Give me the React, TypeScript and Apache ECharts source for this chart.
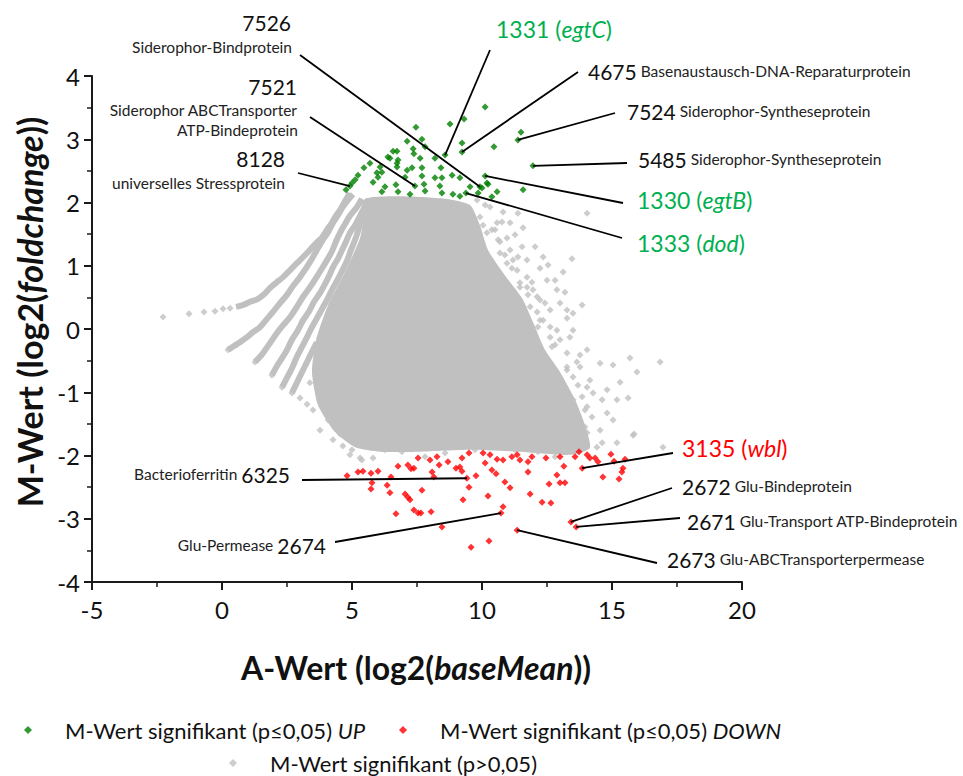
import React, { useEffect, useRef } from 'react';
import * as echarts from 'echarts';

// ---------- data ----------
const X_RANGE = [-5, 20];
const Y_RANGE = [-4, 4];

const NAME_UP = 'M-Wert signifikant (p≤0,05) UP';
const NAME_DOWN = 'M-Wert signifikant (p≤0,05) DOWN';
const NAME_NS = 'M-Wert signifikant (p>0,05)';

// significant, up-regulated (A, M)
const UP_POINTS: number[][] = [
  [7.46, 3.19], [8.77, 3.24], [9.31, 3.32], [7.12, 2.97], [7.69, 3.0], [6.73, 2.81], [7.35, 2.85],
  [7.38, 2.77], [7.81, 2.88], [6.46, 2.7], [6.77, 2.67], [7.62, 2.7], [8.19, 2.7], [9.23, 2.94],
  [9.23, 2.8], [10.46, 2.88], [11.5, 3.11], [11.38, 2.99], [11.96, 2.58], [5.69, 2.62], [5.46, 2.55],
  [6.73, 2.56], [7.12, 2.51], [7.31, 2.55], [7.69, 2.55], [8.42, 2.55], [8.85, 2.43], [8.58, 2.75],
  [6.15, 2.48], [6.0, 2.4], [7.04, 2.4], [7.69, 2.42], [8.19, 2.39], [8.46, 2.39], [9.15, 2.39],
  [10.12, 2.42], [5.23, 2.43], [5.12, 2.36], [4.92, 2.26], [5.81, 2.32], [6.27, 2.25], [6.69, 2.28],
  [7.42, 2.26], [7.77, 2.29], [8.38, 2.26], [9.54, 2.25], [9.92, 2.25], [10.23, 2.29], [11.58, 2.2],
  [6.15, 2.17], [6.77, 2.17], [7.23, 2.13], [7.81, 2.18], [8.46, 2.15], [8.88, 2.13], [9.15, 2.1],
  [9.85, 2.15], [10.58, 2.17], [10.38, 2.09], [10.12, 3.51], [10.19, 2.31], [10.0, 2.23], [9.38, 2.15],
  [4.77, 2.2], [5.0, 2.31], [6.08, 2.56], [5.96, 2.47], [6.38, 2.72], [6.58, 2.81], [6.73, 2.62],
];

// significant, down-regulated (A, M)
const DOWN_POINTS: number[][] = [
  [4.81, -2.32], [5.23, -2.26], [5.42, -2.25], [5.73, -2.28], [6.0, -2.25], [5.77, -2.43], [5.73, -2.53],
  [6.35, -2.47], [6.46, -2.59], [6.5, -2.34], [6.77, -2.17], [7.15, -2.15], [7.27, -2.21], [7.38, -2.2],
  [7.54, -2.04], [8.0, -2.07], [8.27, -2.02], [8.35, -2.15], [8.69, -2.1], [8.08, -2.26], [8.15, -2.34],
  [9.0, -2.2], [9.15, -2.18], [9.23, -2.04], [9.23, -2.25], [9.5, -1.96], [9.42, -2.36], [9.77, -2.32],
  [9.5, -2.5], [7.69, -2.55], [7.04, -2.61], [7.15, -2.66], [7.23, -2.7], [9.27, -2.7], [10.04, -1.96],
  [10.31, -1.99], [10.12, -2.12], [10.58, -2.06], [10.81, -2.07], [10.38, -2.23], [10.54, -2.29],
  [10.88, -2.42], [11.08, -2.51], [10.23, -2.64], [11.15, -2.02], [11.35, -1.99], [11.46, -2.07],
  [11.77, -2.1], [11.92, -2.02], [11.77, -2.26], [12.46, -2.04], [13.0, -2.02], [13.15, -2.17],
  [12.88, -2.31], [13.0, -2.43], [13.19, -2.43], [12.58, -2.45], [11.85, -2.61], [12.31, -2.74],
  [12.65, -2.75], [13.58, -2.02], [13.73, -1.94], [14.04, -1.99], [14.15, -2.04], [14.35, -2.04],
  [14.46, -2.1], [13.85, -2.2], [14.65, -2.34], [14.96, -1.98], [15.08, -2.09], [15.27, -2.37],
  [15.38, -2.26], [15.5, -2.06], [15.42, -2.2], [6.69, -2.92], [7.38, -2.86], [7.54, -2.91],
  [7.65, -2.91], [8.04, -2.89], [10.81, -2.81], [10.73, -2.91], [8.46, -3.13], [11.35, -3.18],
  [10.27, -3.35], [9.58, -3.45], [13.42, -3.05], [13.62, -3.13],
];

// not significant: low-count strands on the left of the cloud, one array per strand (A, M)
const STRAND_1: number[][] = [
  [0.54, 0.35], [0.81, 0.38], [1.08, 0.43], [1.35, 0.47], [1.62, 0.55], [1.85, 0.65], [2.08, 0.73],
  [2.35, 0.82], [2.62, 0.93], [2.88, 1.04], [3.15, 1.15], [3.38, 1.25], [3.62, 1.36], [3.85, 1.45],
  [4.04, 1.57], [4.23, 1.68], [4.38, 1.79], [4.54, 1.88], [4.73, 2.02], [4.92, 2.15],
];
const STRAND_2: number[][] = [
  [0.23, -0.33], [0.46, -0.27], [0.69, -0.21], [0.96, -0.13], [1.19, -0.05], [1.46, 0.03], [1.69, 0.14],
  [1.96, 0.27], [2.23, 0.41], [2.5, 0.54], [2.73, 0.68], [3.0, 0.82], [3.23, 0.96], [3.46, 1.11],
  [3.65, 1.25], [3.85, 1.39], [4.08, 1.53], [4.27, 1.68], [4.46, 1.8], [4.65, 1.93], [4.85, 2.04],
  [5.04, 2.13],
];
const STRAND_3: number[][] = [
  [1.27, -0.52], [1.54, -0.4], [1.85, -0.22], [2.12, -0.06], [2.35, 0.06], [2.62, 0.19], [2.88, 0.35],
  [3.12, 0.51], [3.38, 0.66], [3.62, 0.81], [3.85, 0.96], [4.04, 1.09], [4.23, 1.23], [4.38, 1.38],
  [4.54, 1.52], [4.73, 1.66], [4.92, 1.79], [5.19, 1.93], [5.38, 2.06],
];
const STRAND_4: number[][] = [
  [1.92, -0.73], [2.12, -0.58], [2.31, -0.46], [2.5, -0.33], [2.69, -0.17], [2.92, -0.02], [3.12, 0.14],
  [3.35, 0.28], [3.54, 0.43], [3.77, 0.57], [3.96, 0.71], [4.12, 0.84], [4.27, 0.98], [4.46, 1.11],
  [4.62, 1.25], [4.77, 1.38], [4.92, 1.52], [5.12, 1.64], [5.31, 1.79], [5.46, 1.91], [5.54, 2.02],
];
const STRAND_5: number[][] = [
  [2.31, -0.92], [2.5, -0.77], [2.69, -0.62], [2.88, -0.44], [3.08, -0.28], [3.27, -0.13], [3.46, 0.03],
  [3.65, 0.17], [3.85, 0.32], [4.04, 0.46], [4.23, 0.62], [4.42, 0.76], [4.62, 0.92], [4.81, 1.08],
  [4.96, 1.25], [5.12, 1.41], [5.27, 1.6], [5.38, 1.79], [5.54, 1.98],
];
const STRAND_6: number[][] = [
  [2.69, -1.01], [2.88, -0.85], [3.08, -0.68], [3.27, -0.52], [3.46, -0.36], [3.65, -0.21],
];
// isolated points at the low-count tips
const NS_TIPS: number[][] = [
  [-2.27, 0.19], [-1.27, 0.24], [-0.69, 0.27], [-0.27, 0.28], [0.04, 0.32], [0.31, 0.33],
  [0.23, -0.33], [1.27, -0.52], [1.92, -0.73], [2.31, -0.92], [2.69, -1.01],
];

// not significant: scattered points around the dense cloud (A, M)
const NS_SCATTER: number[][] = [
  [3.0, -1.09], [3.27, -1.19], [3.5, -1.28], [3.77, -1.6], [4.08, -1.44], [4.27, -1.75], [4.54, -1.66],
  [4.65, -1.85], [5.0, -1.91], [5.31, -2.04], [3.77, -0.92], [4.15, -1.17], [3.38, -0.85], [4.92, -1.49],
  [5.31, -1.75], [4.92, -1.99], [5.38, -2.07], [5.81, -2.04], [6.27, -1.91], [6.92, -1.94], [7.81, -2.02],
  [8.58, -1.96], [9.73, -1.91], [11.27, -1.91], [12.15, -1.94], [13.19, -1.91], [12.81, -2.02],
  [14.62, -1.8], [13.38, -1.79],
  [14.04, 1.83], [11.38, 1.83], [11.58, 1.6], [11.08, 1.68], [10.77, 1.69], [12.04, 1.3], [12.35, 1.14],
  [12.54, 1.01], [13.46, 1.11], [13.12, 0.9], [12.81, 0.77], [13.19, 0.58], [13.85, 0.38], [13.5, 0.25],
  [13.27, 0.17], [12.42, 0.41], [12.62, 0.03], [12.88, -0.02], [12.12, 0.27], [12.15, 0.03], [11.73, 1.09],
  [11.92, 0.74], [14.04, -0.33], [13.77, -0.41], [13.65, -0.52], [14.54, -0.54], [15.04, -0.57],
  [15.69, -0.46], [15.96, -0.68], [15.31, -0.84], [14.81, -0.96], [14.62, -1.12], [15.19, -1.12],
  [15.62, -1.09], [14.15, -0.81], [14.27, -1.01], [14.04, -1.23], [14.81, -1.33], [15.04, -1.44],
  [15.81, -1.68], [14.54, -1.6], [14.04, -1.64], [15.19, -1.8], [14.42, -1.87], [16.85, -0.52],
  [16.96, -1.87], [15.85, -1.66],
  [10.12, 1.96], [10.38, 1.57], [10.62, 1.41], [10.88, 1.17], [11.15, 0.96], [11.46, 0.73], [11.77, 0.54],
  [12.23, 0.14], [12.81, -0.25], [13.27, -0.65], [13.69, -0.89], [13.96, -1.28],
  [9.92, 1.77], [10.58, 1.68], [10.19, 1.52], [10.69, 1.38], [11.08, 1.25], [11.38, 1.14], [10.96, 1.04],
  [11.35, 0.93], [11.73, 0.82], [11.46, 0.66], [11.96, 0.62], [12.23, 0.46], [11.85, 0.35], [12.62, 0.3],
  [12.35, 0.14], [13.0, -0.17], [13.38, -0.13], [13.27, -0.38], [12.69, -0.28], [13.77, -0.6],
  [13.5, -0.76], [14.04, -0.92], [13.85, -1.07], [13.65, -1.33], [14.23, -1.39], [13.96, -1.55],
  [13.5, -1.71], [13.85, -1.8], [13.27, -1.87],
  [9.81, 2.04], [10.31, 1.93], [10.81, 1.85], [10.04, 1.64], [10.5, 1.57], [11.27, 1.49], [10.96, 1.44],
  [11.54, 1.3], [10.69, 1.2], [12.23, 0.96], [11.19, 1.09], [12.5, 0.77], [11.73, 0.66], [12.88, 0.62],
  [12.12, 0.51], [13.27, 0.3], [13.0, 0.41], [12.62, -0.13], [13.5, -0.02], [13.27, -0.6], [12.88, -0.81],
  [13.5, -1.12], [13.27, -1.44], [12.88, -1.64],
];

// outline of the dense, fully overlapping part of the non-significant cloud (A, M)
const NS_DENSE_OUTLINE: number[][] = [
  [5.5, 2.06], [6.85, 2.1], [8.58, 2.06], [9.54, 1.96], [9.92, 1.64], [10.23, 1.25], [10.88, 0.85],
  [11.54, 0.49], [11.96, 0.11], [12.42, -0.33], [13.0, -0.68], [13.58, -1.12], [13.96, -1.52],
  [14.15, -1.88], [13.38, -1.99], [11.46, -1.94], [9.54, -1.91], [7.62, -1.94], [6.08, -1.94],
  [5.12, -1.87], [4.35, -1.63], [3.69, -1.2], [3.46, -0.68], [3.62, -0.17], [4.08, 0.38], [4.73, 0.9],
  [5.31, 1.44], [5.46, 1.8],
];

// annotated genes
const ANNOT_IDS = ['7526', '7521', '8128', '1331', '4675', '7524', '5485', '1330', '1333', '3135', '2672', '2671', '2673', '6325', '2674'];
const ANNOT_DESC = ['Siderophor-Bindprotein', 'Siderophor ABCTransporter|ATP-Bindeprotein', 'universelles Stressprotein', 'egtC', 'Basenaustausch-DNA-Reparaturprotein', 'Siderophor-Syntheseprotein', 'Siderophor-Syntheseprotein', 'egtB', 'dod', 'wbl', 'Glu-Bindeprotein', 'Glu-Transport ATP-Bindeprotein', 'Glu-ABCTransporterpermease', 'Bacterioferritin', 'Glu-Permease'];
const ANNOT_POINTS: number[][] = [
  [9.92, 2.25], [7.42, 2.26], [4.92, 2.26], [8.58, 2.75], [9.23, 2.8], [11.38, 2.99], [11.96, 2.58],
  [10.12, 2.42], [9.38, 2.15], [13.85, -2.2], [13.42, -3.05], [13.62, -3.13], [11.35, -3.18],
  [9.42, -2.36], [10.73, -2.91],
];

// ---------- layout (pixels) ----------
const LEADER_END: number[][] = [
  [300, 55], [310, 117], [298, 173], [490, 50], [578, 72], [615, 113], [627, 163], [623, 203], [622, 238],
  [673, 453], [672, 488], [680, 518], [657, 563], [302, 480], [335, 542],
];

const FONT = 'Lato';
const GREEN_TXT = '#00B050';
const RED_TXT = '#FF0000';
const BIG = 21;
const COLOR_BIG = 23;
const SMALL = 15.5;
const TITLE = 32;
const GREY = '#C0C0C0';

const richStyles: any = {
  n: { fontSize: BIG, fontFamily: FONT, fill: '#111', color: '#111' },
  d: { fontSize: SMALL, fontFamily: FONT, fill: '#222', color: '#222' },
  g: { fontSize: COLOR_BIG, fontFamily: FONT, fill: GREEN_TXT, color: GREEN_TXT },
  gi: { fontSize: COLOR_BIG, fontFamily: FONT, fontStyle: 'italic', fill: GREEN_TXT, color: GREEN_TXT },
  r: { fontSize: COLOR_BIG, fontFamily: FONT, fill: RED_TXT, color: RED_TXT },
  ri: { fontSize: COLOR_BIG, fontFamily: FONT, fontStyle: 'italic', fill: RED_TXT, color: RED_TXT },
  b: { fontSize: TITLE, fontFamily: FONT, fontWeight: 'bold', fill: '#111', color: '#111' },
  bi: { fontSize: TITLE, fontFamily: FONT, fontWeight: 'bold', fontStyle: 'italic', fill: '#111', color: '#111' },
  yb: { fontSize: 34, fontFamily: FONT, fontWeight: 'bold', fill: '#111', color: '#111' },
  ybi: { fontSize: 34, fontFamily: FONT, fontWeight: 'bold', fontStyle: 'italic', fill: '#111', color: '#111' },
};

function txt(x: number, y: number, text: string, align: string, extra: any = {}) {
  return {
    type: 'text',
    x,
    y,
    z: 100,
    silent: true,
    ...extra,
    style: {
      text,
      rich: richStyles,
      align,
      textAlign: align,
      verticalAlign: 'middle',
      textVerticalAlign: 'middle',
      fontFamily: FONT,
      fontSize: SMALL,
      fill: '#111',
    },
  };
}

function buildLabels() {
  const d = ANNOT_DESC;
  const id = ANNOT_IDS;
  const [d7521a, d7521b] = d[1].split('|');
  return [
    txt(291, 22, `{n|${id[0]}}`, 'right'),
    txt(292, 47, `{d|${d[0]}}`, 'right'),
    txt(297, 86, `{n|${id[1]}}`, 'right'),
    txt(297, 110, `{d|${d7521a}}`, 'right'),
    txt(298, 130, `{d|${d7521b}}`, 'right'),
    txt(285, 158, `{n|${id[2]}}`, 'right'),
    txt(285, 183, `{d|${d[2]}}`, 'right'),
    txt(496, 29, `{g|${id[3]} (}{gi|${d[3]}}{g|)}`, 'left'),
    txt(588, 71, `{n|${id[4]}}{d| ${d[4]}}`, 'left'),
    txt(627, 111, `{n|${id[5]}}{d| ${d[5]}}`, 'left'),
    txt(638, 159, `{n|${id[6]}}{d| ${d[6]}}`, 'left'),
    txt(637, 200, `{g|${id[7]} (}{gi|${d[7]}}{g|)}`, 'left'),
    txt(637, 243, `{g|${id[8]} (}{gi|${d[8]}}{g|)}`, 'left'),
    txt(682, 448, `{r|${id[9]} (}{ri|${d[9]}}{r|)}`, 'left'),
    txt(682, 486, `{n|${id[10]}}{d| ${d[10]}}`, 'left'),
    txt(687, 521, `{n|${id[11]}}{d| ${d[11]}}`, 'left'),
    txt(667, 559, `{n|${id[12]}}{d| ${d[12]}}`, 'left'),
    txt(290, 474, `{d|${d[13]} }{n|${id[13]}}`, 'right'),
    txt(326, 545, `{d|${d[14]} }{n|${id[14]}}`, 'right'),
    // axis titles
    txt(416, 667, '{b|A-Wert (log2(}{bi|baseMean}{b|))}', 'center'),
    txt(29, 312, '{yb|M-Wert (log2(}{ybi|foldchange}{yb|))}', 'center', { rotation: Math.PI / 2 }),
  ];
}

const legendText = {
  fontSize: 22,
  fontFamily: FONT,
  color: '#111',
  lineHeight: 22,
  padding: [0, 0, 0, 28],
  rich: {
    a: { fontSize: 22, fontFamily: FONT, color: '#111' },
    i: { fontSize: 22, fontFamily: FONT, color: '#111', fontStyle: 'italic' },
  },
};
const legendFormatter = (name: string) => {
  if (name === NAME_UP) return '{a|M-Wert signifikant (p≤0,05) }{i|UP}';
  if (name === NAME_DOWN) return '{a|M-Wert signifikant (p≤0,05) }{i|DOWN}';
  return '{a|' + name + '}';
};
function legendAt(left: number, top: number, name: string) {
  return {
    data: [{ name, icon: 'diamond' }],
    left,
    top,
    padding: 0,
    orient: 'horizontal',
    itemWidth: 8,
    itemHeight: 8,
    selectedMode: false,
    textStyle: legendText,
    formatter: legendFormatter,
  };
}

const AXIS_COLOR = '#1a1a1a';

function strandSeries(data: number[][]) {
  return {
    type: 'line',
    name: 'strand',
    data,
    smooth: 0.3,
    showSymbol: false,
    symbol: 'none',
    silent: true,
    z: 2,
    lineStyle: { color: GREY, width: 6 },
  };
}

export default function App() {
  const ref = useRef<HTMLDivElement>(null);
  useEffect(() => {
    if (!ref.current) return;
    const chart = echarts.init(ref.current, null, { renderer: 'svg' });
    const axisCommon = {
      axisLine: { show: true, onZero: false, lineStyle: { color: AXIS_COLOR, width: 2 } },
      axisTick: { show: true, inside: false, length: 8, lineStyle: { color: AXIS_COLOR, width: 2 } },
      minorTick: { show: true, splitNumber: 2, length: 5, lineStyle: { color: AXIS_COLOR, width: 1.5 } },
      splitLine: { show: false },
      axisLabel: { color: '#111', fontSize: 24, fontFamily: FONT },
    };
    const option: any = {
      animation: false,
      textStyle: { fontFamily: FONT },
      grid: { left: 92, top: 76, width: 650, height: 506, containLabel: false },
      xAxis: {
        type: 'value',
        min: X_RANGE[0],
        max: X_RANGE[1],
        interval: 5,
        ...axisCommon,
        axisLabel: { ...axisCommon.axisLabel, margin: 15 },
      },
      yAxis: {
        type: 'value',
        min: Y_RANGE[0],
        max: Y_RANGE[1],
        interval: 1,
        ...axisCommon,
        axisLabel: { ...axisCommon.axisLabel, margin: 12 },
      },
      legend: [legendAt(24, 719, NAME_UP), legendAt(399, 719, NAME_DOWN), legendAt(229, 752, NAME_NS)],
      graphic: { elements: buildLabels() },
      series: [
        {
          type: 'custom',
          name: 'dense',
          silent: true,
          z: 1,
          clip: false,
          data: [[0, 0]],
          renderItem: (_params: any, api: any) => ({
            type: 'polygon',
            shape: { points: NS_DENSE_OUTLINE.map((p) => api.coord(p)), smooth: 0.2 },
            style: { fill: GREY },
          }),
        },
        strandSeries(STRAND_1),
        strandSeries(STRAND_2),
        strandSeries(STRAND_3),
        strandSeries(STRAND_4),
        strandSeries(STRAND_5),
        strandSeries(STRAND_6),
        {
          type: 'scatter',
          name: NAME_NS,
          symbol: 'diamond',
          symbolSize: 7,
          z: 2,
          itemStyle: { color: GREY },
          data: [...NS_TIPS, ...NS_SCATTER],
        },
        {
          type: 'scatter',
          name: NAME_UP,
          symbol: 'diamond',
          symbolSize: 7,
          z: 3,
          itemStyle: { color: '#008000' },
          data: UP_POINTS,
        },
        {
          type: 'scatter',
          name: NAME_DOWN,
          symbol: 'diamond',
          symbolSize: 7,
          z: 3,
          itemStyle: { color: '#FF0000' },
          data: DOWN_POINTS,
        },
        {
          type: 'custom',
          name: 'leaders',
          silent: true,
          z: 5,
          clip: false,
          data: ANNOT_POINTS,
          renderItem: (params: any, api: any) => {
            const p = api.coord([api.value(0), api.value(1)]);
            const e = LEADER_END[params.dataIndex];
            return {
              type: 'line',
              shape: { x1: p[0], y1: p[1], x2: e[0], y2: e[1] },
              style: { stroke: '#000', lineWidth: 1.8 },
            };
          },
        },
      ],
    };
    chart.setOption(option);
    return () => chart.dispose();
  }, []);
  return (
    <div
      ref={ref}
      style={{ position: 'absolute', left: 0, top: 0, width: 963, height: 776, background: '#fff' }}
    />
  );
}
